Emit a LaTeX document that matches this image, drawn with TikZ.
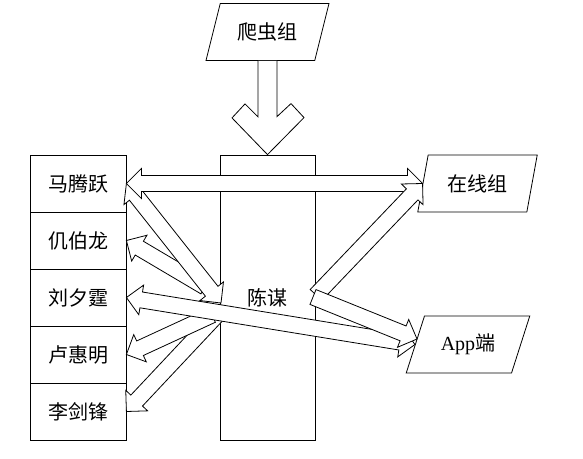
\documentclass[tikz,border=0pt]{standalone}
\usepackage{fontspec}
\setmainfont{Liberation Serif}
\newfontfamily\cjk{Noto Sans CJK SC}
\usetikzlibrary{calc,shapes.geometric}

% Block arrow sizes
\def\shaftw{8pt}
\def\headw{15pt}
\def\headl{15pt}

% Single block arrow, head at #2
\newcommand{\fatarrow}[2]{%
  \coordinate (fa-b) at ($(#2)!\headl!(#1)$);
  \filldraw[fat] ($(#1)!\shaftw!90:(#2)$) -- ($(fa-b)!\shaftw!90:(#2)$)
    -- ($(fa-b)!\headw!90:(#2)$) -- (#2) -- ($(fa-b)!\headw!-90:(#2)$)
    -- ($(fa-b)!\shaftw!-90:(#2)$) -- ($(#1)!\shaftw!-90:(#2)$) -- cycle;
}
% Double block arrow
\newcommand{\dfatarrow}[2]{%
  \coordinate (fa-a) at ($(#1)!\headl!(#2)$);
  \coordinate (fa-b) at ($(#2)!\headl!(#1)$);
  \filldraw[fat] (#1) -- ($(fa-a)!\headw!90:(#2)$) -- ($(fa-a)!\shaftw!90:(#2)$)
    -- ($(fa-b)!\shaftw!90:(#2)$) -- ($(fa-b)!\headw!90:(#2)$) -- (#2)
    -- ($(fa-b)!\headw!-90:(#2)$) -- ($(fa-b)!\shaftw!-90:(#2)$)
    -- ($(fa-a)!\shaftw!-90:(#2)$) -- ($(fa-a)!\headw!-90:(#2)$) -- cycle;
}

\tikzset{
  fat/.style={draw=black, fill=white, line width=0.8pt, line join=miter},
  label font/.style={font=\cjk\fontsize{20}{22}\selectfont},
  member/.style={draw, line width=0.8pt, minimum width=96pt, minimum height=57pt,
    inner sep=0pt, label font},
  group/.style={draw, line width=0.8pt, trapezium, trapezium stretches=true,
    minimum height=57pt, inner sep=0pt, label font},
}

\begin{document}
\begin{tikzpicture}[x=1pt, y=-1pt]
    \useasboundingbox (0,0) rectangle (583,458);

    % Members
    \foreach \i/\who in {0/马腾跃,1/仉伯龙,2/刘夕霆,3/卢惠明,4/李剑锋}
        \node[member] (m\i) at (78,183.5+57*\i) {\who};

    % Centre box
    \node[draw, line width=0.8pt, minimum width=95pt, minimum height=285pt,
          inner sep=0pt, label font] (chen) at (267.5,297.5) {陈谋};

    % Groups
    \node[group, minimum width=123pt, trapezium left angle=64, trapezium right angle=116]
        (crawler) at (267.5,32) {爬虫组};
    \node[group, minimum width=120pt, trapezium left angle=71, trapezium right angle=109]
        (online) at (477.5,183.5) {在线组};
    \node[group, minimum width=124pt, trapezium left angle=61.5, trapezium right angle=118.5]
        (app) at (468,344.5) {{\rmfamily App}端};

    % Crawler arrow
    \filldraw[fat] ([xshift=-9.5pt]crawler.south) -- ++(0,56) -- ++(-13,-13) -- ++(-13,14)
        -- (chen.north) -- ++(36.5,-37) -- ++(-13,-14) -- ++(-14,13)
        -- ([xshift=9.5pt]crawler.south);

    % Arrow ends on the centre box
    \coordinate (c0) at (221,303);
    \coordinate (c1) at (205,287);
    \coordinate (c3) at (212,315);
    \coordinate (c4) at (218,314);
    \coordinate (r1) at (316,295);
    \coordinate (r2) at (313,297);
    \coordinate (a2) at (417,339);

    % Arrows to the members
    \fatarrow{c4}{m4.east}
    \fatarrow{c3}{m3.east}
    \fatarrow{c1}{m1.east}
    \dfatarrow{m0.east}{c0}
    \dfatarrow{m2.east}{app.west}
    \dfatarrow{m0.east}{online.west}

    % Arrows to the groups
    \fatarrow{r1}{online.west}
    \fatarrow{r2}{a2}

\end{tikzpicture}
\end{document}
